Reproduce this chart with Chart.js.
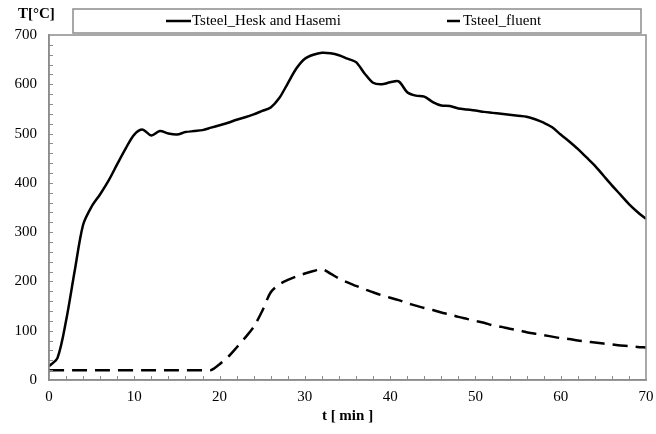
<!DOCTYPE html>
<html>
<head>
<meta charset="utf-8">
<script src="https://cdn.jsdelivr.net/npm/chart.js@4/dist/chart.umd.min.js"></script>
<style>
  html, body { margin: 0; padding: 0; background: #fff; }
  #wrap { width: 656px; height: 434px; position: relative; }
</style>
</head>
<body>
<div id="wrap"><canvas id="c" width="656" height="434"></canvas></div>
<script>
// Time axis (minutes)
const timeMin = [
  0, 1, 2, 3, 4, 5, 6, 7, 8, 9, 10, 11, 12, 13, 14, 15, 16, 17, 18, 19,
  20, 21, 22, 23, 24, 25, 26, 27, 28, 29, 30, 31, 32, 33, 34, 35, 36, 37, 38, 39,
  40, 41, 42, 43, 44, 45, 46, 47, 48, 49, 50, 51, 52, 53, 54, 55, 56, 57, 58, 59,
  60, 61, 62, 63, 64, 65, 66, 67, 68, 69, 70
];

// Steel temperature, Hesk and Hasemi model (°C)
const tsteelHasemi = [
  28, 45, 120, 220, 315, 352, 377, 405, 438, 470, 498, 508, 496, 505, 500, 498, 503, 505, 507, 512,
  517, 522, 528, 533, 539, 546, 553, 572, 602, 632, 652, 660, 664, 663, 659, 652, 645, 622, 603, 600,
  604, 606, 584, 577, 575, 564, 557, 556, 551, 549, 547, 544, 542, 540, 538, 536, 534, 529, 522, 513,
  498, 484, 469, 452, 435, 415, 395, 376, 357, 341, 327
];

// Steel temperature, Fluent simulation (°C)
const tsteelFluent = [
  20, 20, 20, 20, 20, 20, 20, 20, 20, 20, 20, 20, 20, 20, 20, 20, 20, 20, 20, 20,
  32, 47, 66, 86, 108, 140, 178, 194, 203, 210, 216, 221, 225, 216, 206, 198, 191, 184, 178, 172,
  167, 162, 156, 151, 146, 142, 137, 133, 128, 124, 120, 116, 111, 108, 104, 101, 97, 94, 91, 88,
  85, 83, 80, 78, 76, 74, 72, 70, 69, 67, 66
];

const seriesLabels = ['Tsteel_Hesk and Hasemi', 'Tsteel_fluent'];
const xTicks = [0, 10, 20, 30, 40, 50, 60, 70];
const yTicks = [0, 100, 200, 300, 400, 500, 600, 700];

const serif = '"Liberation Serif", "Times New Roman", serif';
const axisGrey = '#8c8c8c';

const pts = (ys) => timeMin.map((t, i) => ({ x: t, y: ys[i] }));

// Frame, inward minor ticks, legend box and unit label
const decorations = {
  id: 'decorations',
  afterDraw(chart) {
    const { ctx, chartArea: a, scales: { x, y } } = chart;
    ctx.save();
    ctx.strokeStyle = axisGrey;
    ctx.lineWidth = 1.5;
    ctx.strokeRect(a.left, a.top, a.right - a.left, a.bottom - a.top);

    ctx.lineWidth = 1;
    ctx.beginPath();
    for (let v = 20; v < 700; v += 20) {
      const py = Math.round(y.getPixelForValue(v)) + 0.5;
      ctx.moveTo(a.left, py);
      ctx.lineTo(a.left + 4, py);
    }
    for (let t = 2; t < 70; t += 2) {
      const px = Math.round(x.getPixelForValue(t)) + 0.5;
      ctx.moveTo(px, a.bottom);
      ctx.lineTo(px, a.bottom - 4);
    }
    ctx.stroke();

    // legend
    ctx.strokeStyle = axisGrey;
    ctx.lineWidth = 1.5;
    ctx.strokeRect(73, 9, 568, 24);
    ctx.fillStyle = '#000';
    ctx.font = '15px ' + serif;
    ctx.textBaseline = 'middle';
    ctx.textAlign = 'left';
    ctx.strokeStyle = '#000';
    ctx.lineWidth = 2.5;
    ctx.beginPath();
    ctx.moveTo(166, 21); ctx.lineTo(191, 21);
    ctx.moveTo(447, 21); ctx.lineTo(460, 21);
    ctx.stroke();
    ctx.fillText(seriesLabels[0], 192, 21);
    ctx.fillText(seriesLabels[1], 463, 21);

    // y unit
    ctx.font = 'bold 15px ' + serif;
    ctx.fillText('T[°C]', 18, 14);
    ctx.restore();
  }
};

new Chart(document.getElementById('c'), {
  type: 'line',
  data: {
    datasets: [
      {
        label: seriesLabels[0],
        data: pts(tsteelHasemi),
        borderColor: '#000',
        borderWidth: 2.5,
        pointRadius: 0,
        tension: 0.3,
        fill: false
      },
      {
        label: seriesLabels[1],
        data: pts(tsteelFluent),
        borderColor: '#000',
        borderWidth: 2.5,
        borderDash: [15, 8],
        pointRadius: 0,
        tension: 0.3,
        fill: false
      }
    ]
  },
  options: {
    responsive: false,
    animation: false,
    layout: { padding: { top: 35, right: 0, left: 0, bottom: 0 } },
    plugins: { legend: { display: false }, tooltip: { enabled: false } },
    scales: {
      x: {
        type: 'linear',
        min: 0, max: 70,
        afterBuildTicks: (s) => { s.ticks = xTicks.map(v => ({ value: v })); },
        afterFit: (s) => { s.height = 54; s.paddingRight = 10; s.paddingLeft = 0; },
        grid: { display: false, drawTicks: false },
        border: { display: true, color: axisGrey, width: 1.5 },
        ticks: { color: '#000', font: { family: serif, size: 15 }, padding: 8 },
        title: {
          display: true, text: 't [ min ]', color: '#000',
          font: { family: serif, size: 15, weight: 'bold' },
          padding: { top: 1, bottom: 9 }
        }
      },
      y: {
        min: 0, max: 700,
        afterBuildTicks: (s) => { s.ticks = yTicks.map(v => ({ value: v })); },
        afterFit: (s) => { s.width = 49; },
        grid: { display: false, drawTicks: false },
        border: { display: true, color: axisGrey, width: 1.5 },
        ticks: { color: '#000', font: { family: serif, size: 15 }, padding: 12 }
      }
    }
  },
  plugins: [decorations]
});
</script>
</body>
</html>
